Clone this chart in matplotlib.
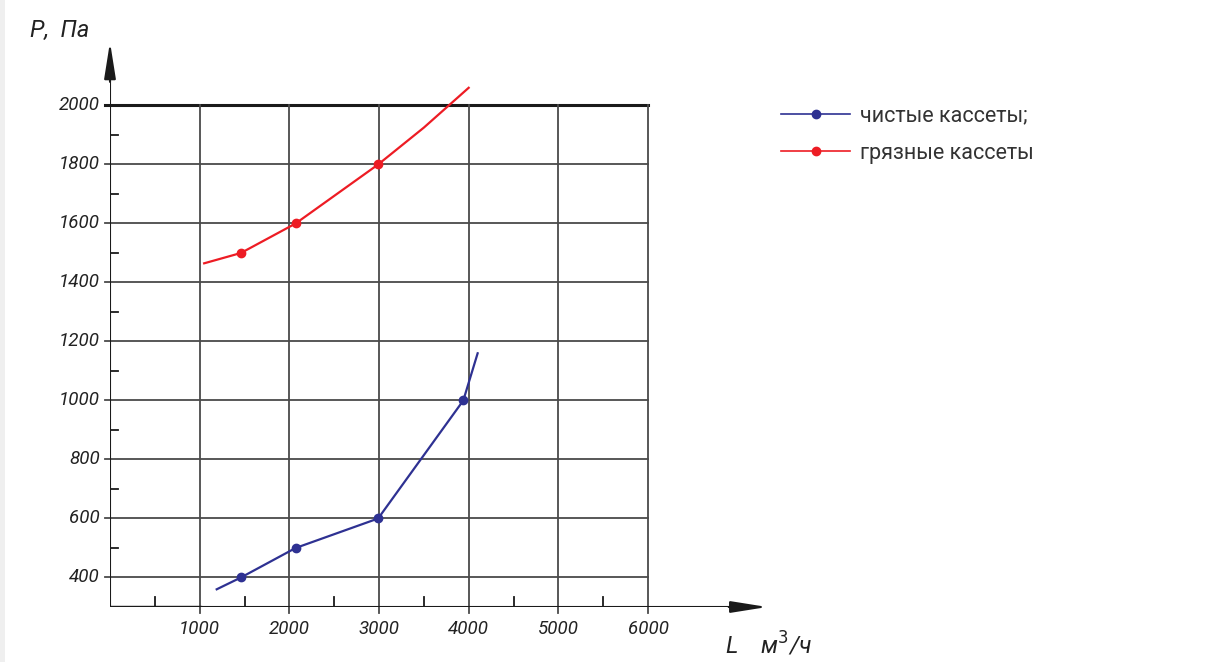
"""Pressure drop vs air flow for clean and dirty filter cassettes."""

import matplotlib
matplotlib.use("Agg")
import matplotlib.pyplot as plt
from matplotlib.patches import Rectangle

# --- data ---
flow_ticks = [1000, 2000, 3000, 4000, 5000, 6000]
flow_minor = [500, 1500, 2500, 3500, 4500, 5500]
pressure_ticks = [400, 600, 800, 1000, 1200, 1400, 1600, 1800, 2000]
pressure_minor = [500, 700, 900, 1100, 1300, 1500, 1700, 1900]

clean_x = [1190, 1460, 2070, 2990, 3940, 4100]
clean_y = [360, 400, 500, 600, 1000, 1160]
clean_pts_x = [1460, 2070, 2990, 3940]
clean_pts_y = [400, 500, 600, 1000]

dirty_x = [1050, 1460, 2070, 2990, 3500, 4000]
dirty_y = [1465, 1500, 1600, 1800, 1925, 2060]
dirty_pts_x = [1460, 2070, 2990]
dirty_pts_y = [1500, 1600, 1800]

labels = ["чистые кассеты;", "грязные кассеты"]
BLUE = "#2e3192"
RED = "#ed1c24"
GRID = "#4a4a4a"
INK = "#1a1a1a"

W, H = 1211, 662
X0, X1 = 0, 7472
Y0, Y1 = 300, 2222

fig = plt.figure(figsize=(W / 100, H / 100), dpi=100)
fig.patch.set_facecolor("white")
fig.patches.append(Rectangle((0, 0), 5 / W, 1, transform=fig.transFigure,
                             facecolor="#efefef", edgecolor="none"))

ax = fig.add_axes([110 / W, 1 - 607 / H, 670 / W, 567 / H])
ax.set_xlim(X0, X1)
ax.set_ylim(Y0, Y1)
ax.axis("off")

tick_font = dict(family="Roboto", style="italic", fontsize=13.5, color="#222222")

# grid
for y in pressure_ticks:
    lw = 2.2 if y == 2000 else 1.3
    col = INK if y == 2000 else GRID
    ax.plot([-60, 6000], [y, y], color=col, lw=lw, clip_on=False, zorder=1)
    ax.text(-110, y, str(y), ha="right", va="center", **tick_font)
for x in flow_ticks:
    ax.plot([x, x], [280, 2000], color=GRID, lw=1.3, clip_on=False, zorder=1)
    ax.text(x, 225, str(x), ha="center", va="center", **tick_font)
for x in flow_minor:
    ax.plot([x, x], [300, 335], color=INK, lw=1.3, zorder=1)
for y in pressure_minor:
    ax.plot([0, 90], [y, y], color=INK, lw=1.3, zorder=1)

# axes with arrows
ax.plot([0, 6950], [300, 300], color=INK, lw=1.5, zorder=2)
ax.plot([0, 1000], [300, 300], color=INK, lw=2.4, zorder=2)
ax.plot([0, 0], [300, 2110], color=INK, lw=1.5, zorder=2)
ax.annotate("", xy=(7330, 300), xytext=(6900, 300),
            arrowprops=dict(arrowstyle="-|>,head_length=2.2,head_width=0.35",
                            color=INK, lw=1.5, shrinkA=0, shrinkB=0))
ax.annotate("", xy=(0, 2215), xytext=(0, 2080),
            arrowprops=dict(arrowstyle="-|>,head_length=2.2,head_width=0.35",
                            color=INK, lw=1.5, shrinkA=0, shrinkB=0))

# curves
ax.plot(clean_x, clean_y, color=BLUE, lw=1.6, zorder=3)
ax.plot(clean_pts_x, clean_pts_y, "o", color=BLUE, ms=6, zorder=4)
ax.plot(dirty_x, dirty_y, color=RED, lw=1.6, zorder=3)
ax.plot(dirty_pts_x, dirty_pts_y, "o", color=RED, ms=6, zorder=4)

# axis titles
title_font = {**tick_font, "fontsize": 17}
fig.text(30 / W, 1 - 30 / H, "P,  Па", ha="left", va="center", **title_font)
fig.text(725 / W, 1 - 645 / H, "L    м$^{3}$/ч", ha="left", va="center", **title_font)

# legend
h1, = ax.plot([], [], "-o", color=BLUE, lw=1.2, ms=6)
h2, = ax.plot([], [], "-o", color=RED, lw=1.2, ms=6)
leg = ax.legend([h1, h2], labels, loc="upper left",
                bbox_to_anchor=(762 / W, 1 - 86 / H), bbox_transform=fig.transFigure,
                frameon=False, handlelength=3.2, handletextpad=0.45, labelspacing=0.75,
                prop=dict(family="Roboto", size=15.5))
for t in leg.get_texts():
    t.set_color("#333333")

fig.savefig("out.png", dpi=100)
